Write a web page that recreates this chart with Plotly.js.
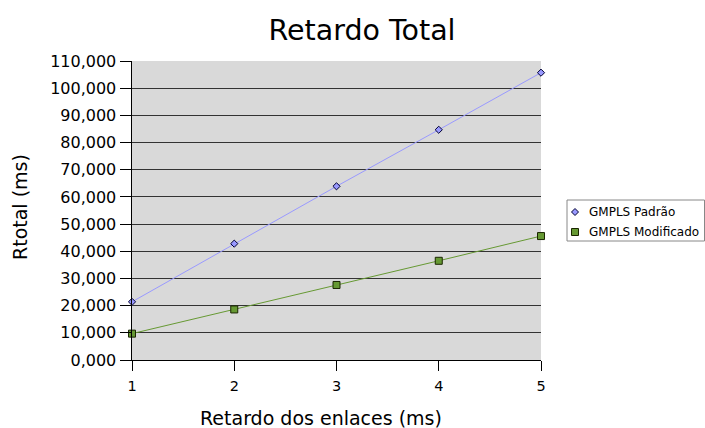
<!DOCTYPE html>
<html><head><meta charset="utf-8">
<script src="https://cdn.plot.ly/plotly-3.0.1.min.js"></script>
<style>body{margin:0;background:#fff}#c{width:705px;height:428px}</style>
</head><body><div id="c"></div>
<script>
const xVals = [1, 2, 3, 4, 5];
const padrao = [21.4, 42.8, 63.9, 84.7, 105.7];
const modificado = [9.7, 18.6, 27.6, 36.5, 45.6];
const seriesNames = ["GMPLS Padrão", "GMPLS Modificado"];
const yTicks = [0,10,20,30,40,50,60,70,80,90,100,110];
const titleText = "Retardo Total";
const xTitle = "Retardo dos enlaces (ms)";
const yTitle = "Rtotal (ms)";

const font = "DejaVu Sans, sans-serif";
const colPadrao = "#9999ff", colMod = "#669933";
const data = [
  {x: xVals, y: padrao, name: seriesNames[0], mode: "lines+markers", type: "scatter", cliponaxis: false, showlegend: false,
   line: {color: colPadrao, width: 1},
   marker: {symbol: "diamond", size: 5.5, color: colPadrao, line: {color: "#000033", width: 1}}},
  {x: xVals, y: modificado, name: seriesNames[1], mode: "lines+markers", type: "scatter", cliponaxis: false, showlegend: false,
   line: {color: colMod, width: 1},
   marker: {symbol: "square", size: 7, color: colMod, line: {color: "#1a2600", width: 1}}}
];

// plot area in pixels: x 132..541, y 61..360
const PX = px => (px - 132) / 409;
const PY = py => (360 - py) / 299;
const legRows = [212, 232];
const shapes = [
  {type: "rect", xref: "paper", yref: "paper", x0: PX(567), x1: PX(704.5), y0: PY(241), y1: PY(200),
   fillcolor: "#ffffff", line: {color: "#888", width: 1}, layer: "above"},
  {type: "path", xref: "paper", yref: "paper", xsizemode: "pixel", ysizemode: "pixel",
   xanchor: PX(575), yanchor: PY(legRows[0]), path: "M0,3.5 L3.5,0 L0,-3.5 L-3.5,0 Z",
   fillcolor: colPadrao, line: {color: "#000033", width: 1}, layer: "above"},
  {type: "rect", xref: "paper", yref: "paper", xsizemode: "pixel", ysizemode: "pixel",
   xanchor: PX(575), yanchor: PY(legRows[1]), x0: -3.5, x1: 3.5, y0: -3.5, y1: 3.5,
   fillcolor: colMod, line: {color: "#1a2600", width: 1}, layer: "above"}
];
const annotations = seriesNames.map((n, i) => ({
  text: n, xref: "paper", yref: "paper", x: PX(587), y: PY(legRows[i]), xanchor: "left", yanchor: "middle",
  showarrow: false, font: {family: font, size: 12, color: "#000"}
}));
annotations.push({text: xTitle, xref: "paper", yref: "paper", x: PX(321), y: PY(418), xanchor: "center", yanchor: "middle",
  showarrow: false, font: {family: font, size: 19, color: "#000"}});
annotations.push({text: yTitle, xref: "paper", yref: "paper", x: PX(20), y: PY(207), xanchor: "center", yanchor: "middle",
  textangle: -90, showarrow: false, font: {family: font, size: 19, color: "#000"}});

const layout = {
  width: 705, height: 428,
  margin: {l: 132, r: 164, t: 61, b: 68},
  paper_bgcolor: "#ffffff", plot_bgcolor: "#d9d9d9",
  separators: ",.",
  font: {family: font, size: 15, color: "#000"},
  title: {text: titleText, font: {family: font, size: 28.5, color: "#000"}, x: PX(362), xanchor: "center", xref: "paper", y: 1 - 30/428, yanchor: "middle"},
  xaxis: {range: [1, 5], tickvals: xVals, ticks: "outside", ticklen: 10, tickcolor: "#000", ticklabelstandoff: 3,
    showline: true, linecolor: "#000", linewidth: 1, showgrid: false, zeroline: false,
    tickfont: {size: 14.5}},
  yaxis: {range: [0, 110], tickvals: yTicks, tickformat: ".3f", ticks: "outside", ticklen: 11, tickcolor: "#000",
    showline: true, linecolor: "#000", linewidth: 1.5, showgrid: true, gridcolor: "#333", gridwidth: 1, zeroline: false,
    tickfont: {size: 16}},
  showlegend: false,
  shapes: shapes,
  annotations: annotations
};
Plotly.newPlot("c", data, layout, {displayModeBar: false, staticPlot: true});
</script></body></html>
